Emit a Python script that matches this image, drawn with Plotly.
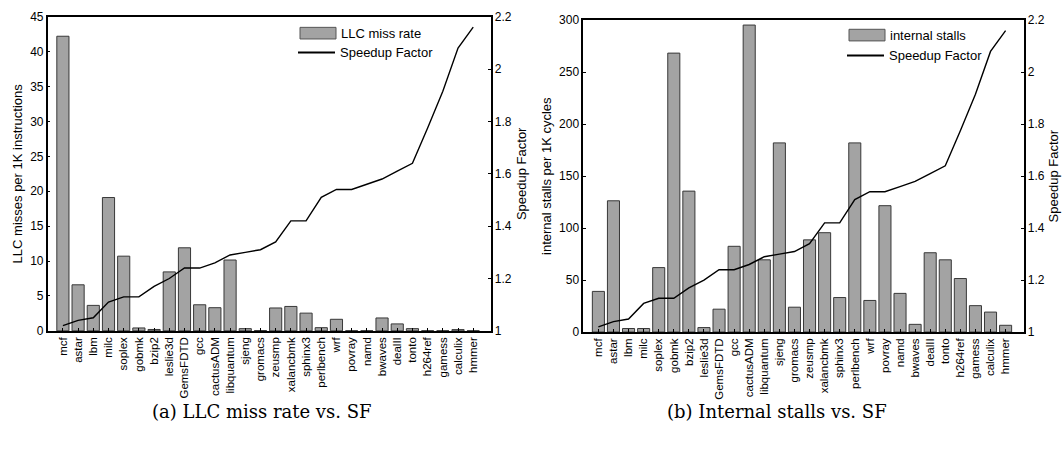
import plotly.graph_objects as go

benchmarks = ["mcf", "astar", "lbm", "milc", "soplex", "gobmk", "bzip2", "leslie3d",
              "GemsFDTD", "gcc", "cactusADM", "libquantum", "sjeng", "gromacs", "zeusmp",
              "xalancbmk", "sphinx3", "perlbench", "wrf", "povray", "namd", "bwaves",
              "dealII", "tonto", "h264ref", "gamess", "calculix", "hmmer"]

llc_miss_rate = [42.2, 6.6, 3.65, 19.1, 10.7, 0.42, 0.2, 8.45, 11.9, 3.74, 3.32, 10.15,
                 0.32, 0.05, 3.28, 3.5, 2.54, 0.46, 1.66, 0.02, 0.02, 1.85, 1.0, 0.32,
                 0.02, 0.02, 0.18, 0.02]

internal_stalls = [39.1, 126.3, 3.4, 3.4, 62, 268.4, 135.6, 4.3, 22, 82.5, 295.4, 69.5,
                   182, 23.9, 88.7, 95.6, 33.2, 182, 30.4, 121.6, 37.2, 7.4, 76.3, 69.5,
                   51.5, 25.4, 19.2, 6.5]

speedup_factor = [1.02, 1.04, 1.05, 1.11, 1.13, 1.13, 1.17, 1.20, 1.24, 1.24, 1.26, 1.29,
                  1.30, 1.31, 1.34, 1.42, 1.42, 1.51, 1.54, 1.54, 1.56, 1.58, 1.61, 1.64,
                  1.775, 1.915, 2.08, 2.16]

BAR_FILL = "#a3a3a3"
BAR_LINE = "#383838"
FONT = "Liberation Sans, Arial, sans-serif"
SERIF = "DejaVu Serif, Liberation Serif, serif"

W, H = 1062, 449

def px(x):
    return x / W

def py(y):
    return 1 - y / H

fig = go.Figure()

# Left panel
fig.add_trace(go.Bar(x=benchmarks, y=llc_miss_rate, xaxis="x", yaxis="y",
                     marker=dict(color=BAR_FILL, line=dict(color=BAR_LINE, width=1)),
                     name="LLC miss rate", showlegend=False))
fig.add_trace(go.Scatter(x=benchmarks, y=speedup_factor, xaxis="x", yaxis="y2",
                         mode="lines", line=dict(color="black", width=1.4),
                         name="Speedup Factor", showlegend=False))
# Right panel
fig.add_trace(go.Bar(x=benchmarks, y=internal_stalls, xaxis="x2", yaxis="y3",
                     marker=dict(color=BAR_FILL, line=dict(color=BAR_LINE, width=1)),
                     name="internal stalls", showlegend=False))
fig.add_trace(go.Scatter(x=benchmarks, y=speedup_factor, xaxis="x2", yaxis="y4",
                         mode="lines", line=dict(color="black", width=1.4),
                         name="Speedup Factor", showlegend=False))

xtickfont = dict(family=FONT, size=11.5, color="black")
ytickfont = dict(family=FONT, size=12, color="black")
titlefont = dict(family=FONT, size=13, color="black")

xcommon = dict(type="category", categoryorder="array", categoryarray=benchmarks,
               tickangle=-90, tickfont=xtickfont, ticks="inside", ticklen=3,
               tickcolor="black", showline=True, linecolor="black", linewidth=1.5,
               mirror=True, showgrid=False, zeroline=False, fixedrange=True)
ycommon = dict(tickfont=ytickfont, ticks="inside", ticklen=3, tickcolor="black",
               showline=True, linecolor="black", linewidth=1.5, showgrid=False,
               zeroline=False)

fig.update_layout(
    width=W, height=H, margin=dict(l=0, r=0, t=0, b=0),
    paper_bgcolor="white", plot_bgcolor="white", bargap=0.2,
    xaxis=dict(xcommon, domain=[px(47.7), px(490.7)], anchor="y", range=[-1.0, 28.15]),
    yaxis=dict(ycommon, domain=[py(334.3), py(10)], anchor="x", range=[0, 45], dtick=5,
               title=dict(text="LLC misses per 1K instructions", font=titlefont, standoff=5)),
    yaxis2=dict(ycommon, overlaying="y", side="right", anchor="x", range=[1, 2.2], dtick=0.2,
                title=dict(text="Speedup Factor", font=titlefont, standoff=6)),
    xaxis2=dict(xcommon, domain=[px(583.3), px(1023.7)], anchor="y3", range=[-1.0, 28.2]),
    yaxis3=dict(ycommon, domain=[py(335.5), py(13.7)], anchor="x2", range=[0, 300], dtick=50,
                title=dict(text="internal stalls per 1K cycles", font=titlefont, standoff=5)),
    yaxis4=dict(ycommon, overlaying="y3", side="right", anchor="x2", range=[1, 2.2], dtick=0.2,
                title=dict(text="Speedup Factor", font=titlefont, standoff=5)),
)

# Custom legends (paper coordinates)
shapes = []
annotations = []

def legend(x0, ybar, yline, bar_label, line_label):
    shapes.append(dict(type="rect", xref="paper", yref="paper",
                       x0=px(x0), x1=px(x0 + 36), y0=py(ybar + 6), y1=py(ybar - 6),
                       fillcolor=BAR_FILL, line=dict(color="#555555", width=1)))
    shapes.append(dict(type="line", xref="paper", yref="paper",
                       x0=px(x0 - 2), x1=px(x0 + 35), y0=py(yline), y1=py(yline),
                       line=dict(color="black", width=2)))
    annotations.append(dict(text=bar_label, xref="paper", yref="paper", x=px(x0 + 39),
                            y=py(ybar), xanchor="left", yanchor="middle", showarrow=False,
                            font=dict(family=FONT, size=13, color="black")))
    annotations.append(dict(text=line_label, xref="paper", yref="paper", x=px(x0 + 38),
                            y=py(yline), xanchor="left", yanchor="middle", showarrow=False,
                            font=dict(family=FONT, size=13, color="black")))

legend(300, 27, 47, "LLC miss rate", "Speedup Factor")
legend(849, 29, 50, "internal stalls", "Speedup Factor")

annotations.append(dict(text="(a) LLC miss rate vs. SF", xref="paper", yref="paper",
                        x=px(262), y=py(418), xanchor="center", yanchor="middle",
                        showarrow=False, font=dict(family=SERIF, size=18, color="black")))
annotations.append(dict(text="(b) Internal stalls vs. SF", xref="paper", yref="paper",
                        x=px(777), y=py(418), xanchor="center", yanchor="middle",
                        showarrow=False, font=dict(family=SERIF, size=18, color="black")))

fig.update_layout(shapes=shapes, annotations=annotations)

fig.write_html("out.html")
